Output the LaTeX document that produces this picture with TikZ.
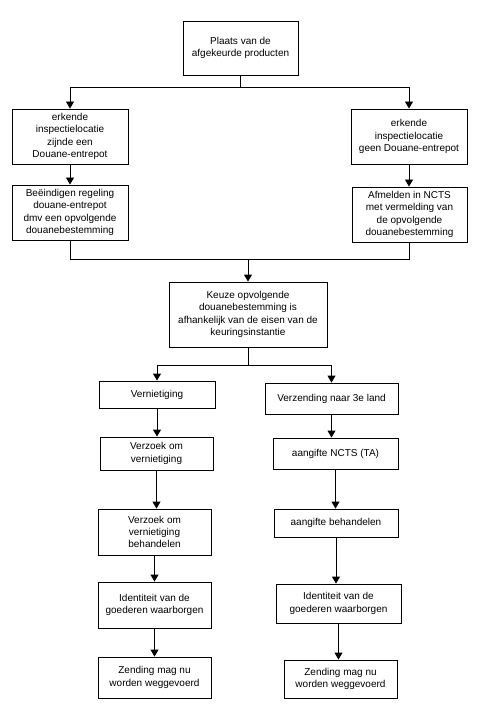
\documentclass[tikz,border=0pt]{standalone}
\usepackage{fontspec}
\setmainfont{Liberation Sans}
\usetikzlibrary{arrows.meta}
\begin{document}
\begin{tikzpicture}[x=1pt,y=-1pt,
  box/.style={draw, line width=0.9pt, inner sep=0pt, align=center, font=\fontsize{10}{12.3}\selectfont},
  conn/.style={line width=0.9pt},
  arr/.style={conn, -{Triangle[width=8pt,length=7pt]}}]
\fill[white] (0,0) rectangle (497,722);
\useasboundingbox (0,0) rectangle (497,722);
\node[box, minimum width=115pt, minimum height=54pt] (plaats) at (240.5,48) {Plaats van de\\afgekeurde producten};
\node[box, minimum width=116pt, minimum height=55pt] (l1) at (70,136.5) {erkende\\inspectielocatie\\zijnde een\\Douane-entrepot};
\node[box, minimum width=116pt, minimum height=55pt] (r1) at (409,136.5) {erkende\\inspectielocatie\\geen Douane-entrepot};
\node[box, minimum width=116pt, minimum height=55pt] (l2) at (70,212.5) {Beëindigen regeling\\douane-entrepot\\dmv een opvolgende\\douanebestemming};
\node[box, minimum width=115pt, minimum height=55pt] (r2) at (409.5,214.5) {Afmelden in NCTS\\met vermelding van\\de opvolgende\\douanebestemming};
\node[box, minimum width=158pt, minimum height=65pt] (keuze) at (248,314.5) {Keuze opvolgende\\douanebestemming is\\afhankelijk van de eisen van de\\keuringsinstantie};
\node[box, minimum width=116pt, minimum height=27pt] (vern) at (157,394.5) {Vernietiging};
\node[box, minimum width=133pt, minimum height=31pt] (verz) at (331.5,398.5) {Verzending naar 3e land};
\node[box, minimum width=113pt, minimum height=33pt] (vzk) at (156.5,453.5) {Verzoek om\\vernietiging};
\node[box, minimum width=125pt, minimum height=31pt] (ncts) at (335.5,453.5) {aangifte NCTS (TA)};
\node[box, minimum width=113pt, minimum height=46pt] (vzkb) at (154.5,532) {Verzoek om\\vernietiging\\behandelen};
\node[box, minimum width=124pt, minimum height=28pt] (behand) at (336,523) {aangifte behandelen};
\node[box, minimum width=113pt, minimum height=46pt] (idl) at (154.5,605) {Identiteit van de\\goederen waarborgen};
\node[box, minimum width=125pt, minimum height=39pt] (idr) at (338.5,603.5) {Identiteit van de\\goederen waarborgen};
\node[box, minimum width=113pt, minimum height=41pt] (zl) at (154.5,677.5) {Zending mag nu\\worden weggevoerd};
\node[box, minimum width=113pt, minimum height=38pt] (zr) at (340.5,679) {Zending mag nu\\worden weggevoerd};
\coordinate (s1) at (240.5,87);
\coordinate (m1) at (248,259);
\coordinate (s2) at (248,365);
\draw[conn] (plaats.south) -- (s1);
\draw[arr] (s1) -| (l1.north);
\draw[arr] (s1) -| (r1.north);
\draw[arr] (l1.south) -- (l2.north);
\draw[arr] (r1.south) -- (r1.south |- r2.north);
\draw[conn] (l2.south) |- (m1);
\draw[conn] (r2.south) |- (m1);
\draw[arr] (m1) -- (keuze.north);
\draw[conn] (keuze.south) -- (s2);
\draw[arr] (s2) -| (vern.north);
\draw[arr] (s2) -| (verz.north);
\draw[arr] (vern.south) -- (vern.south |- vzk.north);
\draw[arr] (verz.south) -- (verz.south |- ncts.north);
\draw[arr] (vzk.south) -- (vzk.south |- vzkb.north);
\draw[arr] (ncts.south) -- (ncts.south |- behand.north);
\draw[arr] (vzkb.south) -- (vzkb.south |- idl.north);
\draw[arr] (behand.south) -- (behand.south |- idr.north);
\draw[arr] (idl.south) -- (idl.south |- zl.north);
\draw[arr] (idr.south) -- (idr.south |- zr.north);
\end{tikzpicture}
\end{document}
